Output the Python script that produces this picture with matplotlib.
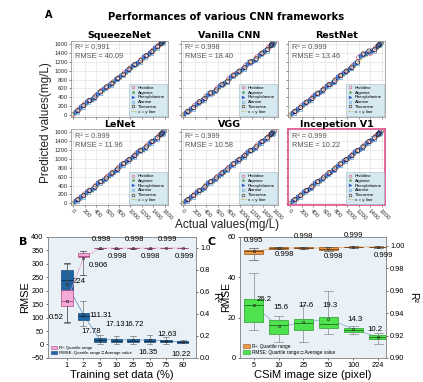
import numpy as np
import matplotlib
matplotlib.use('Agg')
import matplotlib.pyplot as plt
from matplotlib.patches import Patch
from matplotlib.lines import Line2D

plt.rcParams['font.family'] = ['Liberation Sans', 'DejaVu Sans']

# ---------------- panel A data ----------------
models = ['SqueezeNet', 'Vanilla CNN', 'RestNet', 'LeNet', 'VGG', 'Incepetion V1']
r2_a = ['0.991', '0.998', '0.999', '0.999', '0.999', '0.999']
rmse_a = ['40.09', '18.40', '13.46', '11.96', '10.58', '10.22']
acids = ['Histidine', 'Arginine', 'Phenylalanine', 'Alanine', 'Threonine']

# actual concentrations (mg/L)
his_x = [0, 100, 200, 300, 400, 500, 600, 700, 800, 900, 1000, 1100, 1200, 1300, 1400, 1500, 1600]
arg_x = [20, 120, 220, 320, 420, 520, 620, 720, 820, 920, 1020, 1120, 1220, 1320, 1420, 1520, 1590]
phe_x = [40, 140, 240, 340, 440, 540, 640, 740, 840, 940, 1040, 1140, 1240, 1340, 1440, 1540, 1580]
ala_x = [60, 160, 260, 360, 460, 560, 660, 760, 860, 960, 1060, 1160, 1260, 1360, 1460, 1560, 1570]
thr_x = [80, 180, 280, 380, 480, 580, 680, 780, 880, 980, 1080, 1180, 1280, 1380, 1480, 1540, 1560]
acid_x = [his_x, arg_x, phe_x, ala_x, thr_x]

# prediction residuals per model (mg/L)
squeeze_res = [20, 35, 50, 25, 45, 55, 30, 45, 35, 50, 60, 40, 55, 45, 60, 70, 85]
vanilla_res = [5, -12, 18, -6, 22, -15, 10, -20, 15, 6, -10, 20, -15, 12, -5, 25, 35]
rest_res = [3, -8, 10, -5, 12, -10, 6, -12, 8, 4, -6, 14, 95, 60, -10, 15, 25]
lenet_res = [4, -6, 9, -10, 8, -12, 5, -9, 11, 3, -7, 12, -11, 10, -6, 14, 20]
vgg_res = [3, -5, 8, -9, 7, -10, 4, -8, 10, 2, -6, 11, -10, 9, -5, 12, 18]
incep_res = [3, -6, 8, -8, 7, -9, 5, -8, 9, 3, -5, 10, -9, 8, -6, 12, 16]
model_res = [squeeze_res, vanilla_res, rest_res, lenet_res, vgg_res, incep_res]

# ---------------- panel B data ----------------
b_labels = ['1', '2', '5', '10', '25', '50', '75', '80']
b_rmse_q1 = [200, 92, 9, 8, 9, 8, 8, 7]
b_rmse_med = [240, 105, 15, 14, 14, 13, 12, 10]
b_rmse_q3 = [275, 118, 24, 22, 22, 22, 18, 13]
b_rmse_lo = [80, 70, 2, 2, 3, 2, 3, 4]
b_rmse_hi = [300, 160, 35, 33, 32, 35, 28, 18]
b_rmse_mean = [224, 111.31, 17.78, 17.13, 16.72, 16.35, 12.63, 10.22]

b_r2_q1 = [0.47, 0.915, 0.996, 0.996, 0.996, 0.996, 0.997, 0.997]
b_r2_med = [0.52, 0.93, 0.998, 0.998, 0.998, 0.998, 0.999, 0.999]
b_r2_q3 = [0.615, 0.95, 0.999, 0.999, 0.999, 0.999, 0.9995, 0.9995]
b_r2_lo = [0.33, 0.75, 0.993, 0.994, 0.994, 0.994, 0.996, 0.996]
b_r2_hi = [0.86, 0.97, 1.0, 1.0, 1.0, 1.0, 1.0, 1.0]
b_r2_mean = [0.52, 0.906, 0.998, 0.998, 0.998, 0.998, 0.999, 0.999]
b_r2_text = ['0.52', '0.906', '0.998', '0.998', '0.998', '0.998', '0.999', '0.999']
b_rmse_text = ['224', '111.31', '17.78', '17.13', '16.72', '16.35', '12.63', '10.22']

# ---------------- panel C data ----------------
c_labels = ['5', '10', '25', '50', '100', '224']
c_rmse_q1 = [18, 12, 14, 15, 13, 9.5]
c_rmse_med = [26, 16.5, 17.5, 17, 14, 10.2]
c_rmse_q3 = [29, 19, 19.5, 20.5, 14.8, 11.2]
c_rmse_lo = [14, 8, 8, 12, 12, 7]
c_rmse_hi = [42, 21, 26, 33, 16, 12.5]
c_rmse_mean = [26.2, 15.6, 17.6, 19.3, 14.3, 10.2]

c_r2_q1 = [0.993, 0.9975, 0.9978, 0.9965, 0.9985, 0.9985]
c_r2_med = [0.995, 0.998, 0.998, 0.9975, 0.999, 0.999]
c_r2_q3 = [0.9965, 0.9985, 0.9988, 0.9985, 0.9993, 0.9993]
c_r2_lo = [0.987, 0.997, 0.997, 0.995, 0.998, 0.998]
c_r2_hi = [0.998, 0.999, 0.999, 0.999, 0.9995, 0.9995]
c_r2_mean = [0.995, 0.998, 0.998, 0.998, 0.999, 0.999]
c_r2_text = ['0.995', '0.998', '0.998', '0.998', '0.999', '0.999']
c_rmse_text = ['26.2', '15.6', '17.6', '19.3', '14.3', '10.2']


def make_stats(q1, med, q3, lo, hi, mean):
    return [dict(q1=a, med=b, q3=c, whislo=d, whishi=e, mean=f, fliers=[])
            for a, b, c, d, e, f in zip(q1, med, q3, lo, hi, mean)]


fig = plt.figure(figsize=(4.23, 3.82), dpi=100)

# ---------------- panel A ----------------
acid_style = [
    dict(marker='o', facecolors='none', edgecolors='#e0507a'),
    dict(marker='*', facecolors='#5aa04a', edgecolors='#5aa04a'),
    dict(marker='>', facecolors='#3c5cd0', edgecolors='#3c5cd0'),
    dict(marker='s', facecolors='none', edgecolors='#5aa0e0'),
    dict(marker='o', facecolors='none', edgecolors='#3a1a10'),
]
lefts = [0.168, 0.428, 0.681]
bottoms = [0.694, 0.463]
for i, name in enumerate(models):
    r, c = divmod(i, 3)
    ax = fig.add_axes([lefts[c], bottoms[r], 0.229, 0.198])
    ax.plot([0, 1650], [0, 1650], ls='--', color='#e8d060', lw=0.6, zorder=1)
    for j, ac in enumerate(acids):
        xs = np.array(acid_x[j])
        ys = xs + np.array(model_res[i])
        ax.scatter(xs, ys, s=10, lw=0.5, zorder=2, label=ac, **acid_style[j])
    ax.set_xlim(-40, 1660)
    ax.set_ylim(-40, 1660)
    ax.set_xticks(range(0, 1601, 200))
    ax.set_yticks(range(0, 1601, 200))
    ax.grid(color='#dddddd', lw=0.4)
    ax.set_axisbelow(True)
    ax.tick_params(labelsize=4.3, length=1.5, width=0.4, pad=1, colors='#333333')
    if c != 0:
        ax.set_yticklabels([])
    if r == 0:
        ax.set_xticklabels([])
    else:
        ax.set_xticklabels([str(v) for v in range(0, 1601, 200)], rotation=-45,
                           ha='left', va='top', rotation_mode='anchor')
    for sp in ax.spines.values():
        sp.set_color('#888888')
        sp.set_linewidth(0.5)
    if i == 5:
        for sp in ax.spines.values():
            sp.set_color('#e0508a')
            sp.set_linewidth(1.2)
    ax.set_title(name, fontsize=6.8, fontweight='bold', family='DejaVu Sans', pad=2)
    ax.text(0.04, 0.96, 'R\u00b2 = ' + r2_a[i], transform=ax.transAxes, fontsize=5.3,
            color='#555555', va='top')
    ax.text(0.04, 0.84, 'RMSE = ' + rmse_a[i], transform=ax.transAxes, fontsize=5.3,
            color='#555555', va='top')
    handles = [Line2D([], [], ls='none', marker=acid_style[k]['marker'], markersize=2,
                      markerfacecolor=acid_style[k]['facecolors'],
                      markeredgecolor=acid_style[k]['edgecolors'], markeredgewidth=0.4)
               for k in range(5)]
    handles.append(Line2D([], [], ls='--', color='#c8b040', lw=0.5))
    leg = ax.legend(handles, acids + ['x = y line'], loc='lower right', fontsize=3.2,
                    facecolor='#d6e8f0', edgecolor='#a0b8c8', framealpha=1,
                    handlelength=1.2, borderpad=0.4, labelspacing=0.15,
                    handletextpad=0.4, borderaxespad=0.3, fancybox=False)
    leg.get_frame().set_linewidth(0.4)

fig.text(0.107, 0.952, 'A', fontsize=7, fontweight='bold', family='DejaVu Sans')
fig.text(0.535, 0.948, 'Performances of various CNN frameworks', fontsize=7.2,
         fontweight='bold', family='DejaVu Sans', ha='center')
fig.text(0.108, 0.678, 'Predicted values(mg/L)', fontsize=8.5, rotation=90,
         ha='center', va='center', color='#222222')
fig.text(0.537, 0.41, 'Actual values(mg/L)', fontsize=8.5, ha='center', va='center',
         color='#222222')

# ---------------- panel B ----------------
bg = '#e9f1f6'
axb = fig.add_axes([0.113, 0.063, 0.350, 0.317])
axb.set_facecolor(bg)
pos_b = np.arange(1, len(b_labels) + 1)
axb.bxp(make_stats(b_rmse_q1, b_rmse_med, b_rmse_q3, b_rmse_lo, b_rmse_hi, b_rmse_mean),
        positions=pos_b, widths=0.7, showmeans=True, patch_artist=True, manage_ticks=False,
        boxprops=dict(facecolor='#1f64a3', edgecolor='#174a78', lw=0.5),
        medianprops=dict(color='#0d2a45', lw=0.6),
        whiskerprops=dict(color='#777777', lw=0.5),
        capprops=dict(color='#777777', lw=0.5),
        meanprops=dict(marker='s', markersize=1.5, markerfacecolor='none',
                       markeredgecolor='#222222', markeredgewidth=0.4))
axb.plot(pos_b, b_rmse_mean, color='#5b8fc0', lw=0.5, zorder=1)
axb.set_xlim(-0.15, 8.8)
axb.set_ylim(-50, 400)
axb.set_yticks(range(-50, 401, 50))
axb.set_xticks(pos_b)
axb.set_xticklabels(b_labels)
axb.set_ylabel('RMSE', fontsize=8, labelpad=1)
axb.set_xlabel('Training set data (%)', fontsize=8, labelpad=1)
axb.tick_params(labelsize=5.3, length=1.5, width=0.4, pad=1.5)

axb2 = axb.twinx()
axb2.bxp(make_stats(b_r2_q1, b_r2_med, b_r2_q3, b_r2_lo, b_r2_hi, b_r2_mean),
         positions=pos_b, widths=0.7, showmeans=True, patch_artist=True, manage_ticks=False,
         boxprops=dict(facecolor='#f4a9d6', edgecolor='#b04a88', lw=0.5),
         medianprops=dict(color='#b04a88', lw=0.6),
         whiskerprops=dict(color='#555555', lw=0.5),
         capprops=dict(color='#333333', lw=0.5),
         meanprops=dict(marker='s', markersize=1.5, markerfacecolor='none',
                        markeredgecolor='#222222', markeredgewidth=0.4))
axb2.plot(pos_b, b_r2_mean, color='#e8a0c8', lw=0.5, zorder=1)
axb2.set_ylim(0, 1.1)
axb2.set_yticks([0.0, 0.2, 0.4, 0.6, 0.8, 1.0])
axb2.set_ylabel('R\u00b2', fontsize=7.5, rotation=270, va='center', ha='center')
axb2.yaxis.set_label_coords(1.14, 0.5)
axb2.tick_params(labelsize=5.3, length=1.5, width=0.4, pad=1.5)
for a in (axb, axb2):
    for sp in a.spines.values():
        sp.set_color('#888888')
        sp.set_linewidth(0.5)

b_rmse_off = [(4, 2), (4, -1), (-13, 6), (-8, 11), (-6, 11), (-8, -9), (-6, 5), (-8, -9)]
for k in range(len(b_labels)):
    axb.annotate(b_rmse_text[k], (pos_b[k], b_rmse_mean[k]), xytext=b_rmse_off[k],
                 textcoords='offset points', fontsize=5.6, ha='left', va='center')
b_r2_off = [(-13, -12), (4, -5), (-6, 6), (-6, -6), (-6, 6), (-6, -6), (-6, 6), (-6, -6)]
for k in range(len(b_labels)):
    axb2.annotate(b_r2_text[k], (pos_b[k], b_r2_mean[k]), xytext=b_r2_off[k],
                  textcoords='offset points', fontsize=5.6, ha='left', va='center')
axb.legend([Patch(facecolor='#f4a9d6', edgecolor='#b04a88', lw=0.4),
            Patch(facecolor='#1f64a3', edgecolor='#174a78', lw=0.4)],
           ['R\u00b2: Quartile range', 'RMSE: Quartile range \u25a1 Average value'],
           loc='lower left', fontsize=3.1, frameon=False, handlelength=1.5,
           handleheight=0.9, labelspacing=0.2, borderaxespad=0.3, handletextpad=0.4)
fig.text(0.045, 0.358, 'B', fontsize=8, fontweight='bold', family='DejaVu Sans')

# ---------------- panel C ----------------
axc = fig.add_axes([0.567, 0.063, 0.345, 0.317])
axc.set_facecolor(bg)
pos_c = np.arange(1, len(c_labels) + 1)
axc.bxp(make_stats(c_rmse_q1, c_rmse_med, c_rmse_q3, c_rmse_lo, c_rmse_hi, c_rmse_mean),
        positions=pos_c, widths=0.75, showmeans=True, patch_artist=True, manage_ticks=False,
        boxprops=dict(facecolor='#4ee24e', edgecolor='#2a9a2a', lw=0.5),
        medianprops=dict(color='#1d6a1d', lw=0.6),
        whiskerprops=dict(color='#888888', lw=0.5),
        capprops=dict(color='#888888', lw=0.5),
        meanprops=dict(marker='s', markersize=1.5, markerfacecolor='none',
                       markeredgecolor='#222222', markeredgewidth=0.4))
axc.plot(pos_c, c_rmse_mean, color='#7fa8c8', lw=0.5, zorder=1)
axc.set_xlim(0.45, 6.3)
axc.set_ylim(0, 60)
axc.set_yticks([0, 20, 40, 60])
axc.set_xticks(pos_c)
axc.set_xticklabels(c_labels)
axc.set_ylabel('RMSE', fontsize=7.5, va='center', ha='center')
axc.yaxis.set_label_coords(-0.095, 0.5)
axc.set_xlabel('CSiM image size (pixel)', fontsize=8, labelpad=1)
axc.tick_params(labelsize=5.3, length=1.5, width=0.4, pad=1.5)

axc2 = axc.twinx()
axc2.bxp(make_stats(c_r2_q1, c_r2_med, c_r2_q3, c_r2_lo, c_r2_hi, c_r2_mean),
         positions=pos_c, widths=0.75, showmeans=True, patch_artist=True, manage_ticks=False,
         boxprops=dict(facecolor='#e89a48', edgecolor='#9a5a1a', lw=0.5),
         medianprops=dict(color='#7a4010', lw=0.6),
         whiskerprops=dict(color='#777777', lw=0.5),
         capprops=dict(color='#555555', lw=0.5),
         meanprops=dict(marker='s', markersize=1.5, markerfacecolor='none',
                        markeredgecolor='#222222', markeredgewidth=0.4))
axc2.plot(pos_c, c_r2_mean, color='#e8a868', lw=0.5, zorder=1)
axc2.set_ylim(0.90, 1.008)
axc2.set_yticks([0.90, 0.92, 0.94, 0.96, 0.98, 1.00])
axc2.set_ylabel('R\u00b2', fontsize=7.5, rotation=270, va='center', ha='center')
axc2.yaxis.set_label_coords(1.19, 0.5)
axc2.tick_params(labelsize=5.3, length=1.5, width=0.4, pad=1.5)
for a in (axc, axc2):
    for sp in a.spines.values():
        sp.set_color('#888888')
        sp.set_linewidth(0.5)

c_rmse_off = [(2, 4), (-4, 14), (-4, 12), (-4, 10), (-4, 7), (-8, 6)]
for k in range(len(c_labels)):
    axc.annotate(c_rmse_text[k], (pos_c[k], c_rmse_mean[k]), xytext=c_rmse_off[k],
                 textcoords='offset points', fontsize=5.6, ha='left', va='center')
c_r2_off = [(-7, 8), (-3, -5), (-7, 8), (-3, -6), (-7, 8), (-3, -6)]
for k in range(len(c_labels)):
    axc2.annotate(c_r2_text[k], (pos_c[k], c_r2_mean[k]), xytext=c_r2_off[k],
                  textcoords='offset points', fontsize=5.6, ha='left', va='center')
axc.legend([Patch(facecolor='#e89a48', edgecolor='#9a5a1a', lw=0.4),
            Patch(facecolor='#4ee24e', edgecolor='#2a9a2a', lw=0.4)],
           ['R\u00b2: Quartile range', 'RMSE: Quartile range \u25a1 Average value'],
           loc='lower left', fontsize=3.4, frameon=False, handlelength=1.5,
           handleheight=0.9, labelspacing=0.2, borderaxespad=0.3, handletextpad=0.4)
fig.text(0.49, 0.358, 'C', fontsize=8, fontweight='bold', family='DejaVu Sans')

fig.savefig('out.png', dpi=100)
